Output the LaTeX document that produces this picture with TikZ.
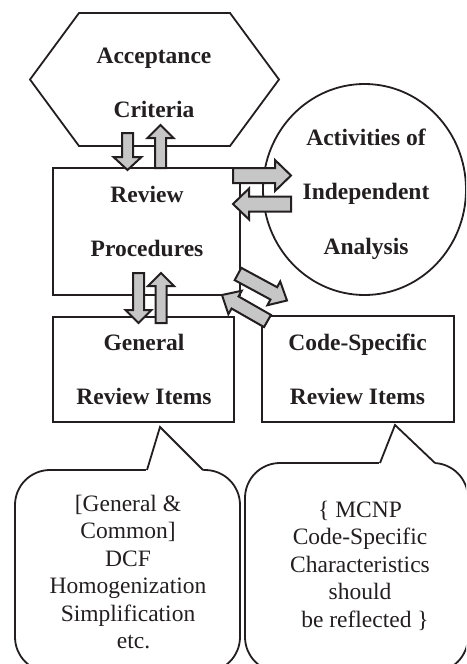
\documentclass[tikz,border=0pt]{standalone}
\usepackage{fontspec}
\setmainfont{Liberation Serif}
\usetikzlibrary{calc,shapes.geometric}
\definecolor{ink}{RGB}{35,31,32}
\definecolor{agray}{RGB}{198,198,198}
\newcommand\mlines[1]{\begin{tabular}[t]{@{}c@{}}#1\end{tabular}}
\tikzset{
  ln/.style={draw=ink, line width=1.8pt, line join=miter},
  box/.style={ln, rectangle, inner sep=0pt},
  bt/.style={font=\fontsize{23.5}{54.5}\selectfont\bfseries, text=ink, anchor=base, inner sep=0pt},
  ct/.style={font=\fontsize{23.5}{27.5}\selectfont, text=ink, anchor=base, inner sep=0pt},
  arr/.style={draw=ink, fill=agray, line width=2pt, line join=miter},
  fat/.style n args={3}{to path={let \p1=(\tikztostart), \p2=(\tikztotarget),
     \n1={atan2(\y2-\y1,\x2-\x1)}, \n2={veclen(\x2-\x1,\y2-\y1)} in
     ($(\p1)+(\n1+90:#1)$) -- ($(\p1)+(\n1:\n2-#3)+(\n1+90:#1)$) --
     ($(\p1)+(\n1:\n2-#3)+(\n1+90:#2)$) -- (\p2) --
     ($(\p1)+(\n1:\n2-#3)+(\n1-90:#2)$) -- ($(\p1)+(\n1:\n2-#3)+(\n1-90:#1)$) --
     ($(\p1)+(\n1-90:#1)$) -- cycle}}
}
\begin{document}
\begin{tikzpicture}[x=1pt,y=-1pt]
\useasboundingbox (0,0) rectangle (466,664);
\clip (0,0) rectangle (466,664);
% hexagon
\draw[ln] (79,13) -- (230,13) -- (279,79.5) -- (230,146) -- (79,146) -- (30,79.5) -- cycle;
\node[bt] (acT) at (154,63) {\mlines{Acceptance\\Criteria}};
% review procedures
\node[box, minimum width=187, minimum height=127] (rp) at (146.5,231.5) {};
\node[bt] (rpT) at (147,202) {\mlines{Review\\Procedures}};
% independent analysis
\node[ln, ellipse, inner sep=0pt, minimum width=203, minimum height=211] (ia) at (364.5,189.5) {};
\node[bt] (iaT) at (366,145) {\mlines{Activities of\\Independent\\Analysis}};
% general review items
\node[box, minimum width=181, minimum height=105] (gr) at (143.5,369.5) {};
\node[bt] (grT) at (144,350) {\mlines{General\\Review Items}};
% code-specific review items
\node[box, minimum width=192, minimum height=106] (cs) at (358,369) {};
\node[bt] (csT) at (357.5,350) {\mlines{Code-Specific\\Review Items}};
% callouts
\draw[ln, rounded corners=35] (15,470) rectangle (240,672);
\fill[white] (145.5,472) -- (160,427) -- (204.5,472) -- cycle;
\draw[ln] (147,470) -- (160,427) -- (203,470);
\draw[ln, rounded corners=35] (245,463) rectangle (468,672);
\fill[white] (378.5,465) -- (395,425) -- (436.5,465) -- cycle;
\draw[ln] (380,463) -- (395,425) -- (435,463);
\node[ct] (lcT) at (128,511) {\mlines{[General \&\\Common]\\DCF\\Homogenization\\Simplification\\\hspace{11pt}etc.}};
\node[ct] (rcT) at (360,517) {\mlines{\{ MCNP\\Code-Specific\\Characteristics\\should\\\hspace{10pt}be reflected \}}};
% arrow end points
\coordinate (a1s) at (127.5,133); \coordinate (a1t) at (127.5,170);
\coordinate (a2s) at (160.5,168); \coordinate (a2t) at (160.5,125);
\coordinate (a3s) at (233,175.5); \coordinate (a3t) at (291,175.5);
\coordinate (a4s) at (291,204);   \coordinate (a4t) at (233,204);
\coordinate (a5s) at (238,274);   \coordinate (a5t) at (287,300.5);
\coordinate (a6s) at (267.5,321); \coordinate (a6t) at (222,295);
\coordinate (a7s) at (138.5,273); \coordinate (a7t) at (138.5,323);
\coordinate (a8s) at (161,323);   \coordinate (a8t) at (161,273);
% block arrows
\draw[arr, fat={5.5pt}{14pt}{13pt}] (a1s) to (a1t);
\draw[arr, fat={5.5pt}{13pt}{13pt}] (a2s) to (a2t);
\draw[arr, fat={7.5pt}{15.5pt}{16pt}] (a3s) to (a3t);
\draw[arr, fat={7.5pt}{15.5pt}{16pt}] (a4s) to (a4t);
\draw[arr, fat={7pt}{13.5pt}{15pt}] (a5s) to (a5t);
\draw[arr, fat={7pt}{13.5pt}{15pt}] (a6s) to (a6t);
\draw[arr, fat={5.5pt}{13pt}{13pt}] (a7s) to (a7t);
\draw[arr, fat={5.5pt}{13pt}{13pt}] (a8s) to (a8t);
\end{tikzpicture}
\end{document}
